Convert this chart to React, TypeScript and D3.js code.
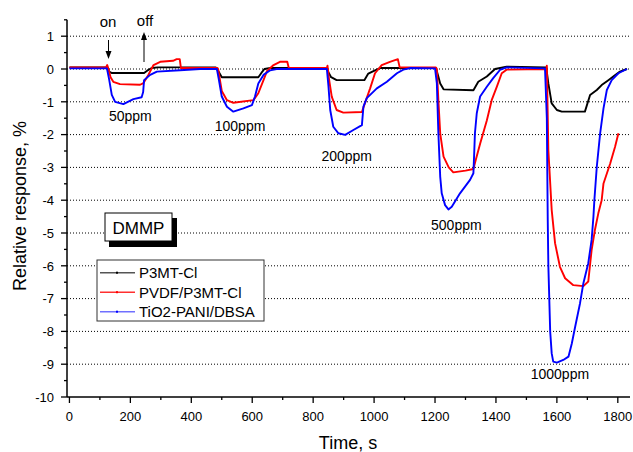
import React from "react";
import * as d3 from "d3";

type P = [number, number];

const p3mt: P[] = [[0,0.05],[125,0.05],[130,-0.08],[138,-0.12],[245,-0.12],[255,-0.05],[270,0.03],[290,0.05],[480,0.05],[488,-0.05],[500,-0.25],[620,-0.25],[630,-0.12],[640,0.0],[660,0.03],[845,0.03],[850,-0.1],[859,-0.25],[877,-0.34],[968,-0.34],[981,-0.14],[1003,-0.04],[1020,0.03],[1203,0.03],[1210,-0.2],[1217,-0.44],[1228,-0.62],[1326,-0.65],[1342,-0.39],[1370,-0.23],[1397,0.0],[1435,0.07],[1565,0.05],[1572,-0.44],[1583,-1.05],[1600,-1.25],[1616,-1.3],[1692,-1.3],[1709,-0.79],[1731,-0.64],[1747,-0.49],[1769,-0.34],[1785,-0.23],[1807,-0.08],[1830,0.0]];

const pvdf: P[] = [[0,0.05],[120,0.05],[124,0.12],[128,0.0],[135,-0.25],[144,-0.39],[166,-0.46],[232,-0.48],[243,-0.43],[259,-0.18],[276,0.12],[298,0.22],[340,0.25],[352,0.3],[362,0.3],[366,0.03],[486,0.03],[488,0.0],[500,-0.67],[517,-0.95],[538,-1.03],[604,-0.95],[620,-0.74],[637,-0.34],[648,-0.07],[670,0.12],[691,0.22],[715,0.22],[720,0.03],[845,0.03],[847,0.1],[852,-0.3],[861,-0.84],[877,-1.25],[899,-1.33],[960,-1.31],[970,-1.04],[987,-0.59],[1003,-0.13],[1025,0.12],[1052,0.22],[1078,0.3],[1084,0.05],[1203,0.05],[1206,0.0],[1211,-0.95],[1217,-1.96],[1228,-2.67],[1245,-3.0],[1260,-3.15],[1300,-3.1],[1326,-3.05],[1333,-2.8],[1348,-2.28],[1370,-1.57],[1386,-0.95],[1403,-0.54],[1419,-0.13],[1435,-0.02],[1565,0.0],[1567,0.1],[1572,-2.47],[1583,-4.3],[1594,-5.31],[1610,-6.03],[1627,-6.38],[1654,-6.59],[1687,-6.62],[1703,-6.48],[1714,-5.52],[1725,-4.9],[1736,-4.4],[1747,-4.0],[1753,-3.49],[1775,-2.88],[1791,-2.37],[1802,-1.96]];

const tio2: P[] = [[0,0.02],[123,0.02],[130,-0.3],[139,-0.79],[150,-1.0],[177,-1.07],[210,-0.92],[237,-0.86],[242,-0.7],[245,-0.34],[265,-0.18],[287,-0.08],[363,-0.04],[429,0.0],[484,0.0],[490,-0.3],[500,-0.84],[517,-1.15],[538,-1.3],[571,-1.2],[599,-1.1],[609,-0.84],[620,-0.44],[637,-0.18],[659,-0.04],[680,0.0],[845,0.0],[850,-0.5],[856,-1.25],[866,-1.76],[883,-1.96],[905,-2.01],[932,-1.86],[960,-1.71],[965,-1.15],[976,-0.89],[1009,-0.59],[1042,-0.39],[1075,-0.13],[1096,-0.02],[1120,0.03],[1200,0.02],[1206,-0.44],[1211,-1.96],[1217,-3.28],[1222,-3.79],[1233,-4.15],[1244,-4.28],[1255,-4.2],[1282,-3.79],[1315,-3.38],[1326,-3.18],[1329,-2.47],[1331,-1.96],[1337,-1.35],[1348,-0.84],[1370,-0.54],[1391,-0.28],[1413,-0.03],[1435,0.05],[1561,0.02],[1567,-1.5],[1570,-4.6],[1572,-6.0],[1578,-8.0],[1583,-8.67],[1588,-8.92],[1600,-8.95],[1621,-8.87],[1638,-8.77],[1649,-8.37],[1660,-7.86],[1676,-7.14],[1687,-6.53],[1703,-5.92],[1714,-5.21],[1720,-4.5],[1723,-4.0],[1731,-2.98],[1742,-1.96],[1753,-1.2],[1764,-0.64],[1780,-0.34],[1802,-0.13],[1830,0.0]];

const seriesNames = ["P3MT-Cl", "PVDF/P3MT-Cl", "TiO2-PANI/DBSA"];
const xMajor = [0, 200, 400, 600, 800, 1000, 1200, 1400, 1600, 1800];
const xMinor = [100, 300, 500, 700, 900, 1100, 1300, 1500, 1700];
const yMajor = [1, 0, -1, -2, -3, -4, -5, -6, -7, -8, -9, -10];
const yMinor = [1.5, 0.5, -0.5, -1.5, -2.5, -3.5, -4.5, -5.5, -6.5, -7.5, -8.5, -9.5];
const concLabels: [string, number, number][] = [
  ["50ppm", 200, -1.6],
  ["100ppm", 560, -1.9],
  ["200ppm", 910, -2.8],
  ["500ppm", 1270, -4.9],
  ["1000ppm", 1610, -9.45],
];

export default function App() {
  const x = d3.scaleLinear().domain([-8, 1840]).range([67, 630]);
  const y = d3.scaleLinear().domain([-10, 1.5]).range([397, 19.8]);
  const line = d3.line<P>().x((d) => x(d[0])).y((d) => y(d[1]));
  const font = "Arial, 'Liberation Sans', Helvetica, sans-serif";
  const colors = ["#000000", "#ff0000", "#0000ff"];
  const legendColors = ["#555555", "#ff3030", "#7070ff"];
  const data = [p3mt, pvdf, tio2];
  const x0 = 67, x1 = 630, yB = 397, yT = 19.8;
  return (
    <svg width={633} height={452} style={{ position: "absolute", left: 0, top: 0, background: "#fff" }} fontFamily={font}>
      <rect x={0} y={0} width={633} height={452} fill="#fff" />
      {yMajor.filter((v) => v > -10).map((v) => (
        <line key={"g" + v} x1={x0} x2={x1} y1={y(v)} y2={y(v)} stroke="#000" strokeWidth={1} strokeDasharray="1 2" />
      ))}
      {data.map((d, i) => (
        <path key={i} d={line(d) || ""} fill="none" stroke={colors[i]} strokeWidth={1.9} strokeLinejoin="round" />
      ))}
      <line x1={x0} x2={x0} y1={yT} y2={yB} stroke="#000" strokeWidth={1.5} />
      <line x1={x0} x2={x1} y1={yB} y2={yB} stroke="#000" strokeWidth={1.5} />
      {yMajor.map((v) => (
        <g key={"ym" + v}>
          <line x1={x0 - 6} x2={x0} y1={y(v)} y2={y(v)} stroke="#000" strokeWidth={1.3} />
          <text x={54} y={y(v) + 4.7} fontSize={13} textAnchor="end" fill="#000">{v}</text>
        </g>
      ))}
      {yMinor.map((v) => (
        <line key={"yn" + v} x1={x0 - 3} x2={x0} y1={y(v)} y2={y(v)} stroke="#000" strokeWidth={1.3} />
      ))}
      {xMajor.map((v) => (
        <g key={"xm" + v}>
          <line x1={x(v)} x2={x(v)} y1={yB} y2={yB + 6} stroke="#000" strokeWidth={1.3} />
          <text x={x(v)} y={421} fontSize={13} textAnchor="middle" fill="#000">{v}</text>
        </g>
      ))}
      {xMinor.map((v) => (
        <line key={"xn" + v} x1={x(v)} x2={x(v)} y1={yB} y2={yB + 3} stroke="#000" strokeWidth={1.3} />
      ))}
      <text x={348} y={449} fontSize={18} textAnchor="middle" fill="#000">Time, s</text>
      <text transform="translate(26,206) rotate(-90)" fontSize={18} textAnchor="middle" fill="#000">Relative response, %</text>
      <text x={108} y={27} fontSize={15} textAnchor="middle">on</text>
      <text x={145} y={26} fontSize={15} textAnchor="middle">off</text>
      <line x1={108.5} x2={108.5} y1={40} y2={53} stroke="#000" strokeWidth={1} />
      <path d="M105.5,51 L111.5,51 L108.5,59 Z" fill="#000" />
      <line x1={144} x2={144} y1={62} y2={38} stroke="#000" strokeWidth={1} />
      <path d="M141,40 L147,40 L144,32 Z" fill="#000" />
      {concLabels.map(([t, tx, v]) => (
        <text key={t} x={x(tx)} y={y(v)} fontSize={14} textAnchor="middle" fill="#000">{t}</text>
      ))}
      <rect x={109} y={218} width={68} height={29} fill="#000" />
      <rect x={105} y={213} width={67} height={28} fill="#fff" stroke="#000" strokeWidth={1} />
      <text x={138.5} y={233.5} fontSize={17} textAnchor="middle">DMMP</text>
      <rect x={97} y={260} width={167} height={61} fill="#fff" stroke="#333" strokeWidth={1} />
      {seriesNames.map((n, i) => {
        const cy = 272.7 + i * 19.5;
        return (
          <g key={n}>
            <line x1={100} x2={135} y1={cy} y2={cy} stroke={legendColors[i]} strokeWidth={1.6} />
            <rect x={116} y={cy - 1} width={2} height={2} fill={colors[i]} />
            <text x={139} y={cy + 5.5} fontSize={15}>{n}</text>
          </g>
        );
      })}
    </svg>
  );
}
